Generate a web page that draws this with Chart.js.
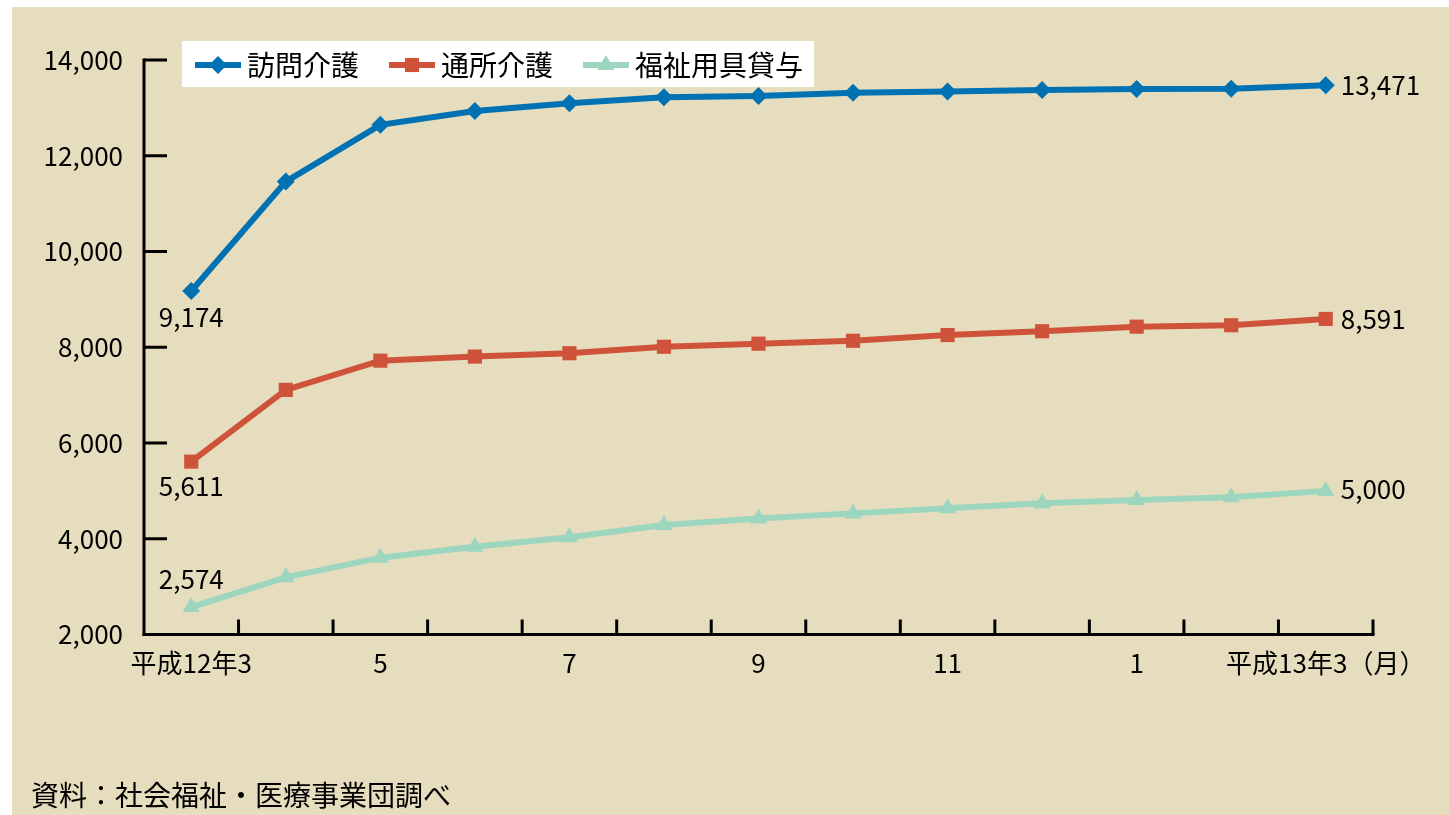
<!DOCTYPE html>
<html><head><meta charset="utf-8">
<script src="https://cdn.jsdelivr.net/npm/chart.js@4"></script>
<style>
html,body{margin:0;padding:0;background:#fff;overflow:hidden;}
#wrap{position:absolute;left:12px;top:7px;width:1437px;height:808px;background:#e5ddbd;}
</style></head><body>
<div id="wrap"><canvas id="c"></canvas></div>
<script>
// ---- data ----
const categories = ['H12.3','H12.4','H12.5','H12.6','H12.7','H12.8','H12.9','H12.10','H12.11','H12.12','H13.1','H13.2','H13.3'];
const xTickLabels = ['平成12年3','','5','','7','','9','','11','','1','','平成13年3（月）'];
const seriesNames = ['訪問介護','通所介護','福祉用具貸与'];
const homeHelp   = [9174, 11460, 12645, 12935, 13095, 13220, 13250, 13315, 13340, 13375, 13395, 13400, 13471];
const dayService = [5611, 7110, 7720, 7805, 7875, 8010, 8075, 8135, 8255, 8335, 8430, 8460, 8591];
const equipment  = [2574, 3195, 3605, 3835, 4030, 4285, 4425, 4530, 4635, 4740, 4810, 4865, 5000];
const yMin = 2000, yMax = 14000, yStep = 2000;
const sourceNote = '資料：社会福祉・医療事業団調べ';

const colors = ['#0072b4', '#cf523a', '#9dd6bf'];
const styles = ['rectRot', 'rect', 'triangle'];
const radii = [9, 10, 10];
const FONT = '"Noto Sans CJK JP", "Noto Sans", sans-serif';

const seriesData = [homeHelp, dayService, equipment];
const datasets = seriesData.map((d, i) => ({
  label: seriesNames[i],
  data: d,
  borderColor: colors[i],
  backgroundColor: colors[i],
  borderWidth: 6,
  pointStyle: styles[i],
  pointRadius: radii[i],
  pointHoverRadius: radii[i],
  pointBorderWidth: 0,
  tension: 0,
  clip: false
}));

const fmt = v => v.toLocaleString('en-US');

const decor = {
  id: 'decor',
  afterDraw(chart) {
    const {ctx, chartArea: a, scales: {x, y}} = chart;
    ctx.save();
    const line = (x1, y1, x2, y2) => { ctx.beginPath(); ctx.moveTo(x1, y1); ctx.lineTo(x2, y2); ctx.stroke(); };
    ctx.strokeStyle = '#000';
    ctx.lineWidth = 3;
    const yTop = y.getPixelForValue(yMax);
    line(a.left, yTop - 1.5, a.left, a.bottom + 1.5);
    line(a.left - 1.5, a.bottom, a.right + 1.5, a.bottom);
    y.ticks.forEach(t => {
      if (t.value === yMin) return;
      const py = y.getPixelForValue(t.value);
      line(a.left, py, a.left + 23, py);
    });
    const half = (x.getPixelForValue(1) - x.getPixelForValue(0)) / 2;
    for (let i = 0; i < categories.length; i++) {
      const px = x.getPixelForValue(i) + half;
      line(px, a.bottom, px, a.bottom - 15);
    }

    // value labels (first and last points)
    ctx.fillStyle = '#000';
    ctx.font = '26px ' + FONT;
    ctx.textBaseline = 'middle';
    const firstOff = [26, 25, -28];
    const lastOff = [0, 0, -2];
    seriesData.forEach((d, i) => {
      const pts = chart.getDatasetMeta(i).data;
      const p0 = pts[0], pn = pts[pts.length - 1];
      ctx.textAlign = 'center';
      ctx.fillText(fmt(d[0]), p0.x, p0.y + firstOff[i]);
      ctx.textAlign = 'left';
      ctx.fillText(fmt(d[d.length - 1]), pn.x + 15, pn.y + lastOff[i]);
    });

    // legend
    const lx = 170, ly = 34, lw = 632, lh = 46;
    ctx.fillStyle = '#fff';
    ctx.fillRect(lx, ly, lw, lh);
    ctx.font = '28px ' + FONT;
    ctx.textAlign = 'left';
    ctx.textBaseline = 'middle';
    let cx = lx + 13;
    const cy = ly + 24;
    datasets.forEach((ds, i) => {
      ctx.strokeStyle = ds.borderColor;
      ctx.lineWidth = 6;
      line(cx, cy, cx + 46, cy);
      ctx.fillStyle = ds.borderColor;
      Chart.helpers.drawPoint(ctx, {pointStyle: ds.pointStyle, radius: ds.pointRadius, borderWidth: 0, rotation: 0}, cx + 23, cy);
      ctx.fillStyle = '#000';
      ctx.fillText(ds.label, cx + 52, cy);
      cx += 52 + ctx.measureText(ds.label).width + 30;
    });

    // source note
    ctx.font = '28px ' + FONT;
    ctx.fillStyle = '#000';
    ctx.fillText(sourceNote, 19, 788);
    ctx.restore();
  }
};

new Chart(document.getElementById('c'), {
  type: 'line',
  data: { labels: categories, datasets },
  options: {
    responsive: true,
    maintainAspectRatio: false,
    animation: false,
    locale: 'en-US',
    layout: { padding: { left: 0, right: 76, top: 53, bottom: 120.5 } },
    plugins: { legend: { display: false }, tooltip: { enabled: false } },
    scales: {
      x: {
        type: 'category',
        offset: true,
        grid: { display: false, drawTicks: false },
        border: { display: false },
        ticks: {
          autoSkip: false, maxRotation: 0, minRotation: 0, padding: 13,
          color: '#000', font: { family: FONT, size: 26 },
          callback: (v, i) => xTickLabels[i]
        },
        afterFit: s => { s.height = 60; }
      },
      y: {
        min: yMin, max: yMax,
        grid: { display: false, drawTicks: false },
        border: { display: false },
        ticks: {
          stepSize: yStep, padding: 21, color: '#000',
          font: { family: FONT, size: 26 },
          callback: v => fmt(v)
        },
        afterFit: s => { s.width = 132; }
      }
    }
  },
  plugins: [decor]
});
</script>
</body></html>
